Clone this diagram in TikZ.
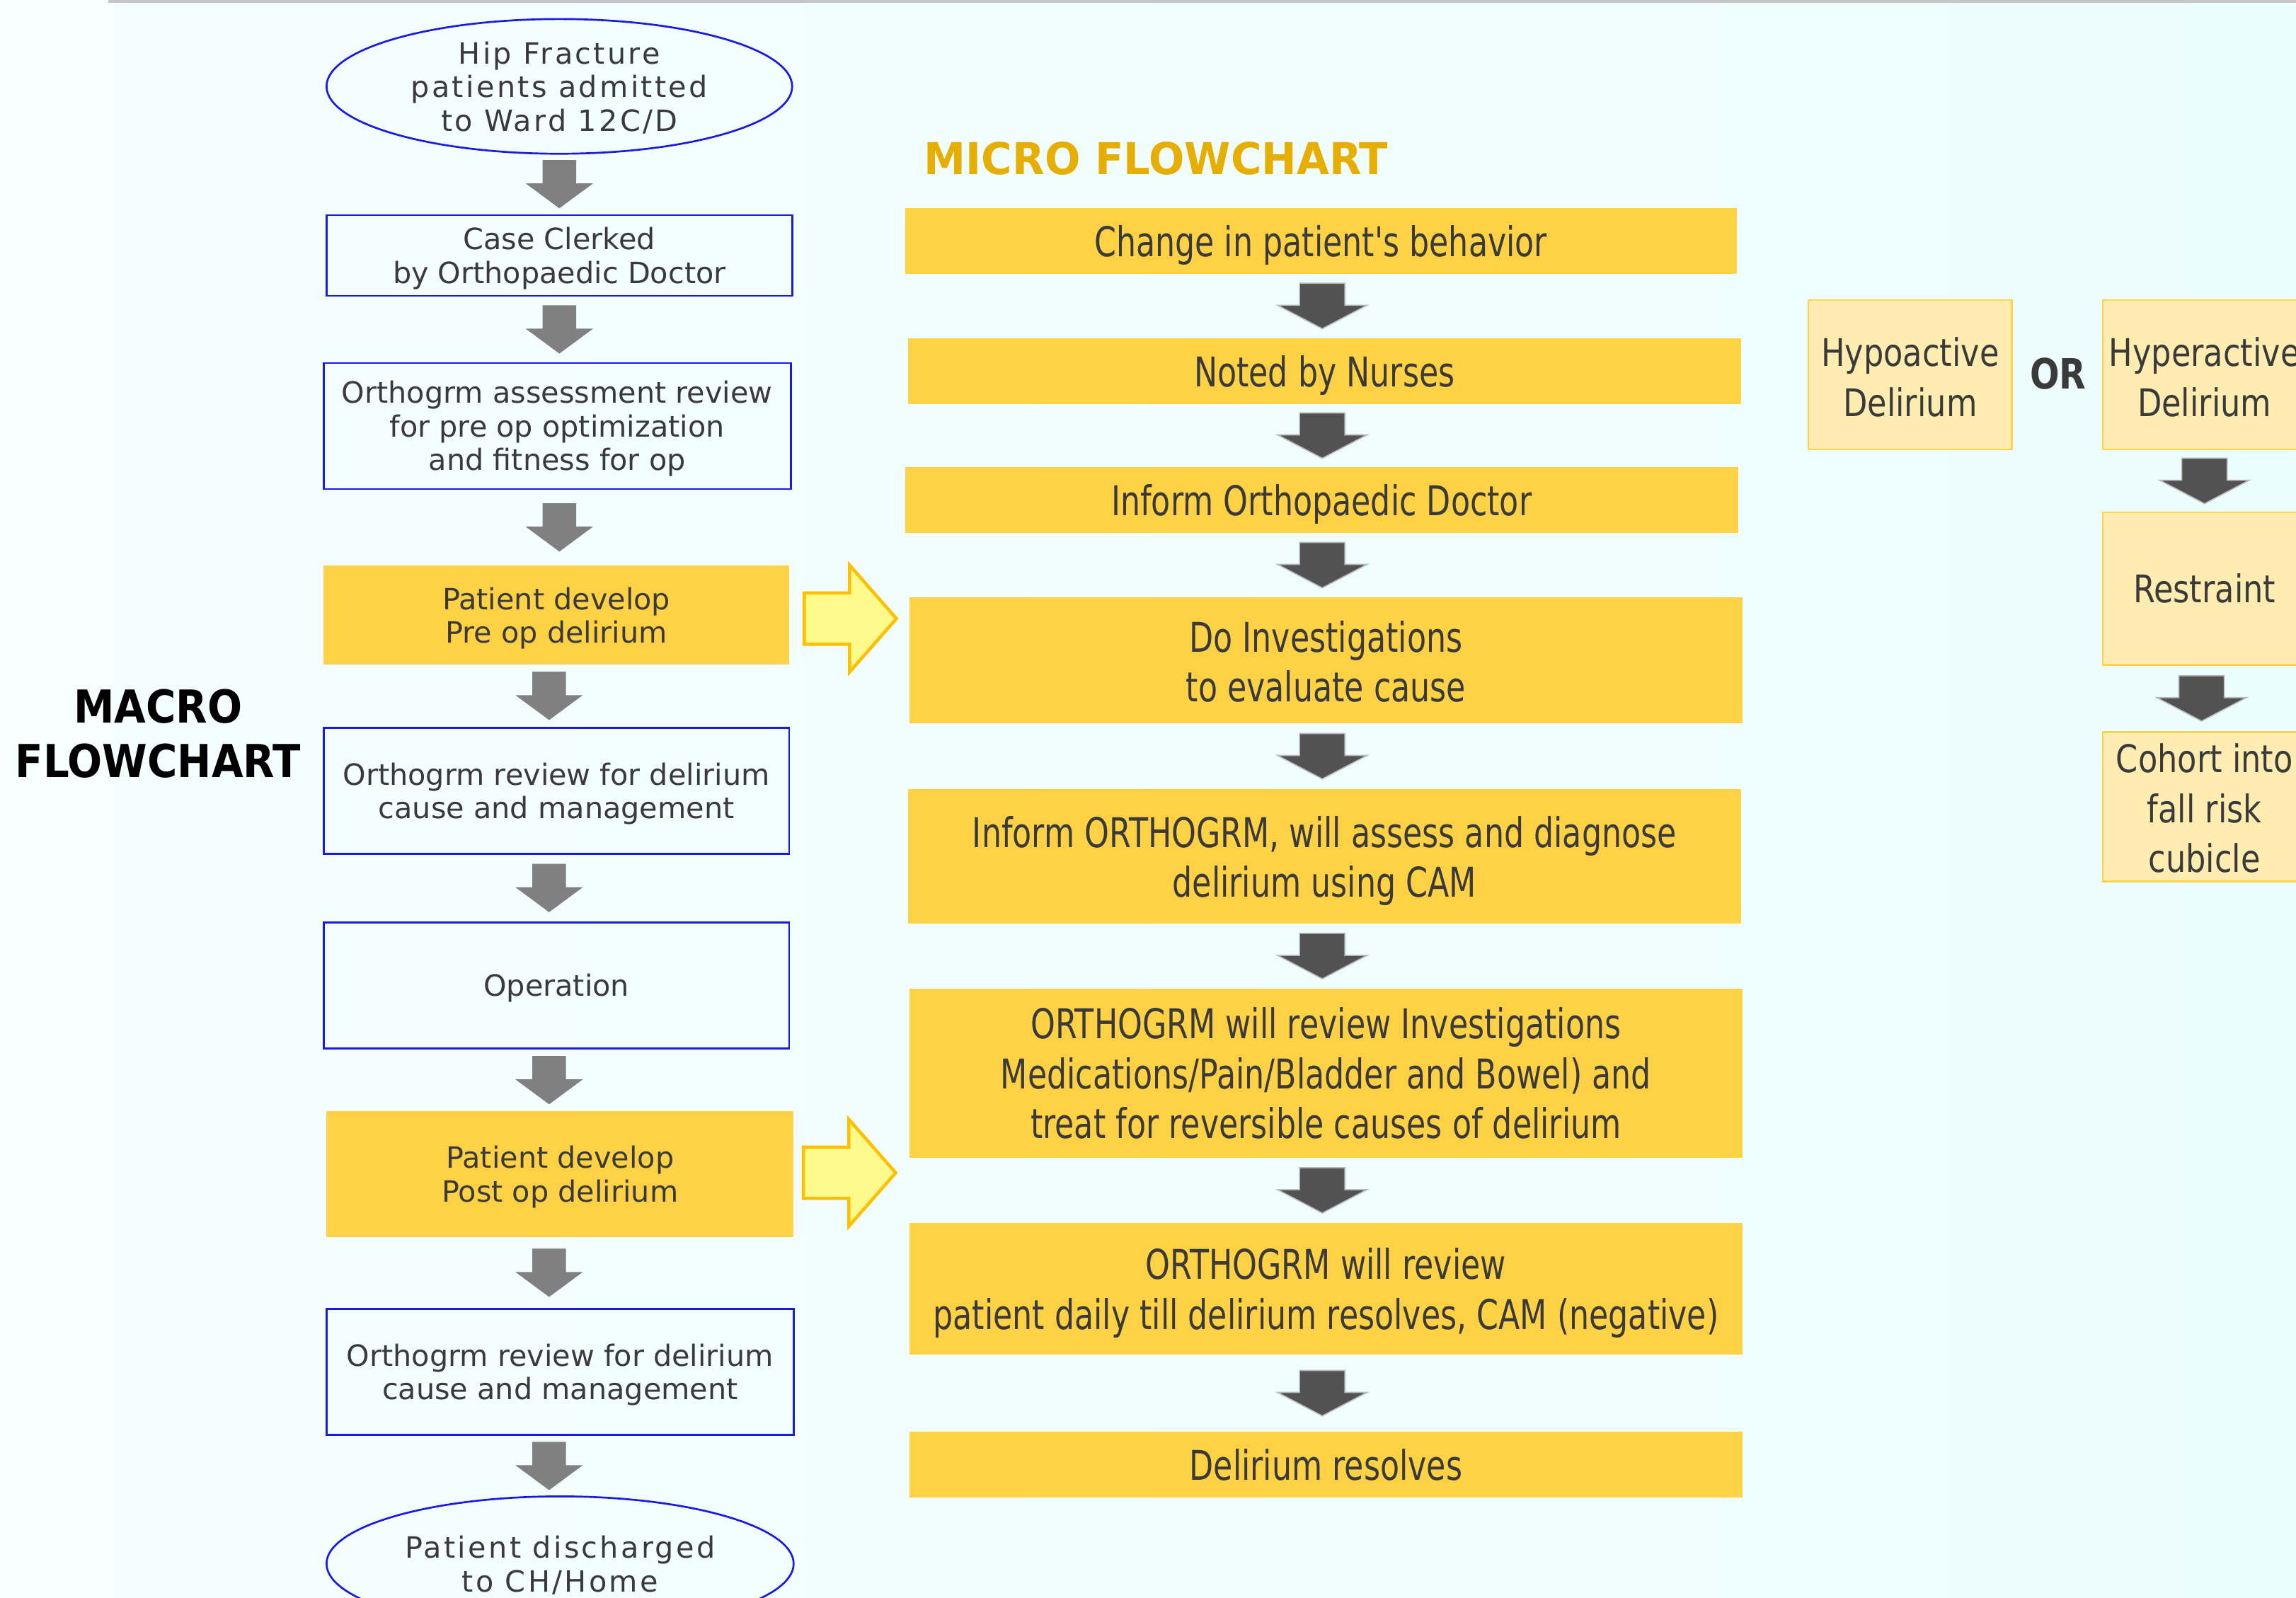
\documentclass[tikz,border=0pt]{standalone}
\usepackage{fontspec}
\setmainfont{DejaVu Sans}
\newfontfamily\condf[FakeStretch=0.765]{DejaVu Sans}
\newfontfamily\rightf[FakeStretch=0.83]{DejaVu Sans}
\newfontfamily\titlef[FakeStretch=0.9]{DejaVu Sans}
\newfontfamily\microtf[FakeStretch=0.955]{DejaVu Sans}
\newfontfamily\spacedf[LetterSpace=8]{DejaVu Sans}
\usetikzlibrary{calc}
\definecolor{bgl}{RGB}{246,254,254}
\definecolor{bgr}{RGB}{236,253,253}
\definecolor{txt}{RGB}{58,58,58}
\definecolor{mblue}{RGB}{26,26,230}
\definecolor{myel}{RGB}{255,209,69}
\definecolor{lyel}{RGB}{255,236,176}
\definecolor{lyelb}{RGB}{255,211,77}
\definecolor{gold}{RGB}{230,174,0}
\definecolor{garrc}{RGB}{128,128,128}
\definecolor{darrc}{RGB}{82,82,82}
\definecolor{yafill}{RGB}{255,250,140}
\definecolor{yaline}{RGB}{255,192,0}
\newcommand\sth[1]{\rule{0pt}{#1}}
\tikzset{
  mtext/.style={rectangle, minimum width=318pt, text=txt, align=center, inner sep=0pt,
    font=\fontsize{20}{23}\selectfont},
  mbox/.style={mtext, draw=mblue, line width=1.3pt},
  ybox/.style={mtext, fill=myel},
  bline/.style={draw=mblue, line width=1.3pt},
  microbox/.style={rectangle, fill=myel, minimum width=569pt, text=txt, align=center,
    inner sep=0pt, font=\condf\fontsize{28}{34}\selectfont},
  rbox/.style={rectangle, fill=lyel, draw=lyelb, line width=1.2pt, minimum width=139pt,
    text=txt, align=center, inner sep=0pt, font=\rightf\fontsize{26}{34}\selectfont},
  garrowst/.style={fill=garrc},
  darrowst/.style={fill=darrc, draw=gray!55, line width=0.8pt},
  yarrowst/.style={fill=yafill, draw=yaline, line width=2.2pt, line join=miter},
  topline/.style={draw=gray!45, line width=1.8pt}
}
% gray block arrow between two macro nodes
\newcommand\garrow[3]{%
  \path[garrowst] let \p1=(#1.south), \p2=(#2.north), \n1={(\y1+\y2)/2}, \n2={\x2+#3} in
    (\n2-11.5pt,\n1+16.5pt) -- (\n2+11.5pt,\n1+16.5pt) -- (\n2+11.5pt,\n1+0.5pt) --
    (\n2+23pt,\n1+0.5pt) -- (\n2,\n1-16.5pt) -- (\n2-23pt,\n1+0.5pt) --
    (\n2-11.5pt,\n1+0.5pt) -- cycle;}
% dark block arrow between two micro nodes
\newcommand\darrow[3]{%
  \path[darrowst] let \p1=(#1.south), \p2=(#2.north), \n1={(\y1+\y2)/2}, \n2={\x2+#3} in
    (\n2-15.5pt,\n1+15.5pt) -- (\n2+15.5pt,\n1+15.5pt) -- (\n2+15.5pt,\n1+0.5pt) --
    (\n2+30.5pt,\n1+0.5pt) -- (\n2,\n1-15.5pt) -- (\n2-30.5pt,\n1+0.5pt) --
    (\n2-15.5pt,\n1+0.5pt) -- cycle;}
% hollow yellow right arrow leaving a macro node
\newcommand\yarrow[3]{%
  \path[yarrowst] let \p1=(#1.east), \n1={\x1+#2}, \n2={\y1+#3} in
    (\n1,\n2+17.5pt) -- (\n1+31pt,\n2+17.5pt) -- (\n1+31pt,\n2+36.5pt) --
    (\n1+63pt,\n2) -- (\n1+31pt,\n2-36.5pt) -- (\n1+31pt,\n2-17.5pt) --
    (\n1,\n2-17.5pt) -- cycle;}
\begin{document}
\begin{tikzpicture}[x=1pt,y=-1pt]
\useasboundingbox (0,0) rectangle (1568,1091);
\clip (0,0) rectangle (1568,1091);
\fill[left color=bgl,right color=bgr] (0,0) rectangle (1568,1091);
\draw[topline] (74,0.8) -- (1568,0.8);

% ---------------- macro flowchart ----------------
\node[font=\titlef\bfseries\fontsize{31}{37}\selectfont, text=black, align=center] (macro) at (108,501) {MACRO\\FLOWCHART};

\node[mtext, minimum height=92pt, font=\spacedf\fontsize{20}{23}\selectfont] (hip) at (382,59) {\sth{17.2pt}Hip Fracture\\patients admitted\\to Ward 12C/D};
\draw[bline] (hip.center) ellipse [x radius=159pt, y radius=46pt];
\node[mbox, minimum height=55pt] (case) at (382,174.5) {\sth{19pt}Case Clerked\\by Orthopaedic Doctor};
\node[mbox, minimum width=319pt, minimum height=86pt] (assess) at (380.5,291) {\sth{19pt}Orthogrm assessment review\\for pre op optimization\\and fitness for op};
\node[ybox, minimum height=68pt] (preop) at (380,420) {\sth{19.5pt}Patient develop\\Pre op delirium};
\node[mbox, minimum height=86pt] (rev1) at (380,540) {\sth{19.5pt}Orthogrm review for delirium\\cause and management};
\node[mbox, minimum height=86pt] (oper) at (380,673) {\sth{19pt}Operation};
\node[ybox, minimum width=319pt, minimum height=86pt] (postop) at (382.5,802) {\sth{19pt}Patient develop\\Post op delirium};
\node[mbox, minimum width=319pt, minimum height=86pt] (rev2) at (382.5,937) {\sth{19pt}Orthogrm review for delirium\\cause and management};
\node[mtext, minimum height=92pt, font=\spacedf\fontsize{20}{23}\selectfont] (dis) at (382.5,1068) {\sth{17.2pt}Patient discharged\\to CH/Home};
\draw[bline] (dis.center) ellipse [x radius=159.5pt, y radius=46pt];

\garrow{hip}{case}{0pt}
\garrow{case}{assess}{1.5pt}
\garrow{assess}{preop}{2pt}
\garrow{preop}{rev1}{-5pt}
\garrow{rev1}{oper}{-5pt}
\garrow{oper}{postop}{-7.5pt}
\garrow{postop}{rev2}{-7.5pt}
\garrow{rev2}{dis}{-7.5pt}

\yarrow{preop}{10pt}{-2.5pt}
\yarrow{postop}{6.5pt}{1pt}

% ---------------- micro flowchart ----------------
\node[anchor=west, text=gold, inner sep=0pt, font=\microtf\bfseries\fontsize{30}{34}\selectfont] (micro) at (631,108) {MICRO FLOWCHART};

\node[microbox, minimum width=568pt, minimum height=45pt] (m1) at (902,164.5) {\sth{27.3pt}Change in patient's behavior};
\node[microbox, minimum height=45pt] (m2) at (904.5,253.5) {\sth{27.3pt}Noted by Nurses};
\node[microbox, minimum height=45pt] (m3) at (902.5,341.5) {\sth{27.3pt}Inform Orthopaedic Doctor};
\node[microbox, minimum height=86pt] (m4) at (905.5,451) {\sth{23.3pt}Do Investigations\\to evaluate cause};
\node[microbox, minimum height=92pt] (m5) at (904.5,585) {\sth{27.3pt}Inform ORTHOGRM, will assess and diagnose\\delirium using CAM};
\node[microbox, minimum height=116pt] (m6) at (905.5,733) {ORTHOGRM will review Investigations\\Medications/Pain/Bladder and Bowel) and\\treat for reversible causes of delirium};
\node[microbox, minimum height=90pt] (m7) at (905.5,880) {\sth{27.3pt}ORTHOGRM will review\\patient daily till delirium resolves, CAM (negative)};
\node[microbox, minimum height=45pt] (m8) at (905.5,1000.5) {Delirium resolves};

\darrow{m1}{m2}{-1.5pt}
\darrow{m2}{m3}{0.5pt}
\darrow{m3}{m4}{-2.5pt}
\darrow{m4}{m5}{-1.5pt}
\darrow{m5}{m6}{-2.5pt}
\darrow{m6}{m7}{-2.5pt}
\darrow{m7}{m8}{-2.5pt}

% ---------------- delirium type ----------------
\node[rbox, minimum height=102pt] (hypo) at (1304.5,256) {\sth{22.8pt}Hypoactive\\Delirium};
\node[text=txt, inner sep=0pt, font=\rightf\bfseries\fontsize{28.5}{34}\selectfont] (or) at (1405.5,255) {OR};
\node[rbox, minimum height=102pt] (hyper) at (1505.5,256) {\sth{22.8pt}Hyperactive\\Delirium};
\node[rbox, minimum height=104pt] (restr) at (1505.5,402) {Restraint};
\node[rbox, minimum height=102pt] (cohort) at (1505.5,551) {\sth{22pt}Cohort into\\fall risk\\cubicle};

\darrow{hyper}{restr}{0pt}
\darrow{restr}{cohort}{-2pt}
\end{tikzpicture}
\end{document}
